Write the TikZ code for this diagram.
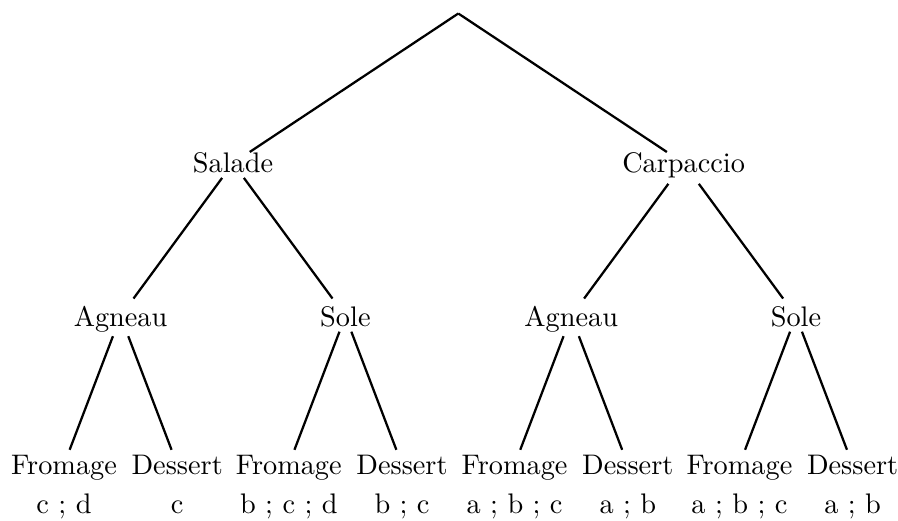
\documentclass[tikz,border=0pt]{standalone}
\begin{document}
\begin{tikzpicture}[x=0.35336pt, y=-0.35336pt,
  word/.style={inner sep=0pt, text height=7pt, text depth=0pt, anchor=base},
  tag/.style={inner sep=0pt, anchor=base},
  branch/.style={line width=0.8pt},
  top/.style={branch, shorten >=7.1pt},
  mid/.style={branch, shorten >=7.7pt},
  low/.style={branch, shorten >=5.6pt}]
\useasboundingbox (0,0) rectangle (898,520);

% root of the tree
\coordinate (root) at (458.3,13.5);

% first course
\node[word] (salade) at (233,173) {Salade};
\node[word] (carpaccio) at (683.6,173) {Carpaccio};

% main course
\node[word] (agneauA) at (120.6,326) {Agneau};
\node[word] (soleA)   at (345.4,326) {Sole};
\node[word] (agneauB) at (571.2,326) {Agneau};
\node[word] (soleB)   at (796.0,326) {Sole};

% last course
\node[word] (fromA)  at (64.0,474.5)  {Fromage};
\node[word] (dessA)  at (177.2,474.5) {Dessert};
\node[word] (fromB)  at (288.8,474.5) {Fromage};
\node[word] (dessB)  at (402.0,474.5) {Dessert};
\node[word] (fromC)  at (514.6,474.5) {Fromage};
\node[word] (dessC)  at (627.8,474.5) {Dessert};
\node[word] (fromD)  at (739.4,474.5) {Fromage};
\node[word] (dessD)  at (852.6,474.5) {Dessert};

% wines under each leaf
\node[tag] (wA) at (64.0,513.5)  {c ; d};
\node[tag] (wB) at (177.2,513.5) {c};
\node[tag] (wC) at (288.8,513.5) {b ; c ; d};
\node[tag] (wD) at (402.0,513.5) {b ; c};
\node[tag] (wE) at (514.6,513.5) {a ; b ; c};
\node[tag] (wF) at (627.8,513.5) {a ; b};
\node[tag] (wG) at (739.4,513.5) {a ; b ; c};
\node[tag] (wH) at (852.6,513.5) {a ; b};

% branches
\draw[top] (root) -- (salade.center);
\draw[top] (root) -- (carpaccio.center);

\draw[mid, shorten <=6.5pt] (salade.center) -- (agneauA.center);
\draw[mid, shorten <=6.5pt] (salade.center) -- (soleA.center);
\draw[mid, shorten <=9.1pt] (carpaccio.center) -- (agneauB.center);
\draw[mid, shorten <=9.1pt] (carpaccio.center) -- (soleB.center);

\draw[low, shorten <=7.6pt] (agneauA.center) -- (fromA.center);
\draw[low, shorten <=7.6pt] (agneauA.center) -- (dessA.center);
\draw[low, shorten <=5.9pt] (soleA.center) -- (fromB.center);
\draw[low, shorten <=5.9pt] (soleA.center) -- (dessB.center);
\draw[low, shorten <=7.6pt] (agneauB.center) -- (fromC.center);
\draw[low, shorten <=7.6pt] (agneauB.center) -- (dessC.center);
\draw[low, shorten <=5.9pt] (soleB.center) -- (fromD.center);
\draw[low, shorten <=5.9pt] (soleB.center) -- (dessD.center);
\end{tikzpicture}
\end{document}
